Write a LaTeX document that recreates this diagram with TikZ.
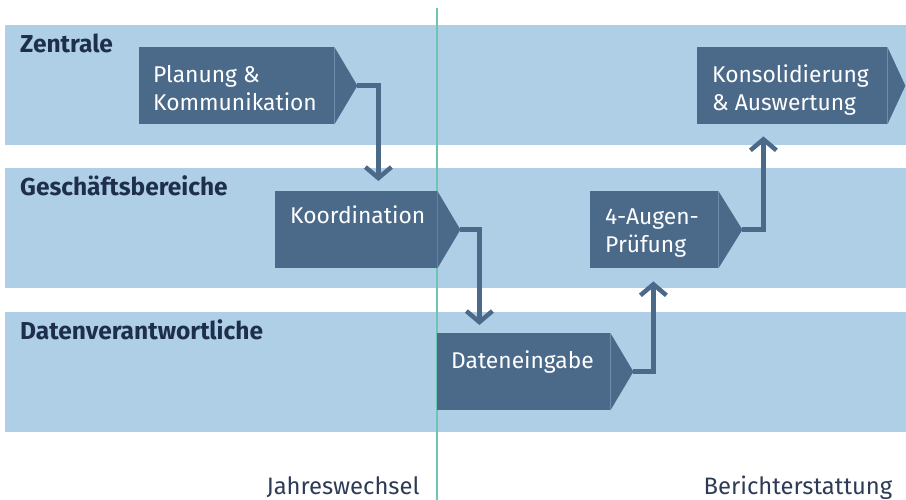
\documentclass[tikz,border=0pt]{standalone}
\usepackage{fontspec}
\setmainfont{Fira Sans}
\usetikzlibrary{arrows.meta,calc}
\definecolor{lanecol}{HTML}{AFCFE6}
\definecolor{boxcol}{HTML}{4B6A8A}
\definecolor{tealcol}{HTML}{6EC6B2}
\definecolor{navy}{HTML}{1E2F4E}
\definecolor{labcol}{HTML}{2E3B55}
\begin{document}
\begin{tikzpicture}[x=1pt,y=-1pt,
  lane/.style={fill=lanecol,draw=none,anchor=north west,inner sep=0,minimum width=901pt,minimum height=120pt},
  lanelabel/.style={anchor=base west,inner sep=0,text=navy,font=\bfseries\fontsize{24.5}{28}\selectfont},
  body/.style={fill=boxcol,draw=none,anchor=north west,inner sep=0,minimum height=77pt},
  boxtext/.style={anchor=base west,inner sep=0,text=white,align=left,font=\fontsize{22.8}{28.5}\selectfont},
  conn/.style={draw=boxcol,line width=4.5pt,-{Straight Barb[length=11pt,width=26pt,line width=4.5pt]}},
  timelab/.style={anchor=base,inner sep=0,text=labcol,font=\fontsize{23.8}{28}\selectfont}]
\useasboundingbox (0,0) rectangle (906,500);
\begin{scope}
\clip (0,0) rectangle (906,500);
% lanes
\node[lane] (l1) at (5,25) {};
\node[lane] (l2) at (5,168) {};
\node[lane] (l3) at (5,312) {};
\node[lanelabel] (ll1) at (20,52.5) {Zentrale};
\node[lanelabel] (ll2) at (20,196) {Geschäftsbereiche};
\node[lanelabel] (ll3) at (20,339) {Datenverantwortliche};
% divider
\coordinate (dtop) at (437,8);
\coordinate (dbot) at (437,500);
\draw[tealcol,line width=2pt] (dtop) -- (dbot);
% boxes
\node[body,minimum width=195pt] (b1) at (139,47) {};
\fill[boxcol] (b1.north east) -- ($(b1.east)+(23,0)$) coordinate (t1) -- (b1.south east) -- cycle;
\node[boxtext] (x1) at (153,111) {Planung \&\\Kommunikation};

\node[body,minimum width=162pt] (b2) at (275,191) {};
\fill[boxcol] (b2.north east) -- ($(b2.east)+(23,0)$) coordinate (t2) -- (b2.south east) -- cycle;
\node[boxtext] (x2) at (290,224) {Koordination};

\node[body,minimum width=173pt] (b3) at (437,333) {};
\fill[boxcol] (b3.north east) -- ($(b3.east)+(23,0)$) coordinate (t3) -- (b3.south east) -- cycle;
\node[boxtext] (x3) at (451,368) {Dateneingabe};

\node[body,minimum width=128pt] (b4) at (590,191) {};
\fill[boxcol] (b4.north east) -- ($(b4.east)+(24,0)$) coordinate (t4) -- (b4.south east) -- cycle;
\node[boxtext] (x4) at (605,253) {4-Augen-\\Prüfung};

\node[body,minimum width=190pt] (b5) at (697,47) {};
\fill[boxcol] (b5.north east) -- ($(b5.east)+(18,0)$) coordinate (t5) -- (b5.south east) -- cycle;
\node[boxtext] (x5) at (712,110.7) {Konsolidierung\\\& Auswertung};

% connectors
\draw[conn] (t1) -- ++(21,0) coordinate (c1) -- ($(c1 |- b2.north)+(0,-10)$);
\draw[conn] (t2) -- ++(19,0) coordinate (c2) -- ($(c2 |- b3.north)+(0,-8)$);
\draw[conn] (t3) -- ++(20,0) coordinate (c3) -- ($(c3 |- b4.south)+(0,13)$);
\draw[conn] (t4) -- ++(21,0) coordinate (c4) -- ($(c4 |- b5.south)+(0,12)$);
% time labels
\node[timelab] (j) at (343,494) {Jahreswechsel};
\node[timelab] (r) at (798,494) {Berichterstattung};
\end{scope}
\end{tikzpicture}
\end{document}
